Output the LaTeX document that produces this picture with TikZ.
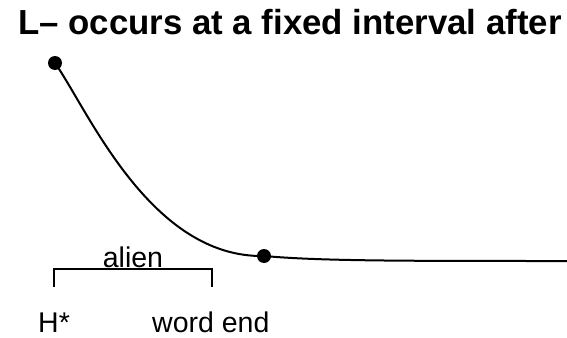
\documentclass[tikz,border=0pt]{standalone}
\usepackage{fontspec}
\setmainfont{Liberation Sans}
\usepackage{tikz}
\usetikzlibrary{positioning,calc}

\begin{document}
\begin{tikzpicture}[x=1pt,y=-1pt,
    dot/.style={circle,fill=black,inner sep=0pt,minimum size=14pt},
    lbl/.style={font=\fontsize{28.5}{30}\selectfont,inner sep=0pt,anchor=base}]
    \useasboundingbox (0,0) rectangle (567,337);
    \node[font=\bfseries\fontsize{34.8}{36}\selectfont,anchor=base west,inner sep=0pt] (title) at (18,35) {L– occurs at a fixed interval after};
    \node[dot] (hstar) at (55,63) {};
    \node[dot] (lminus) at (264,256) {};
    \coordinate (tail) at (567,261);
    \draw[line width=2pt] (hstar.center) .. controls (88,110) and (150,258) .. (lminus.center);
    \draw[line width=2pt] (lminus.center) .. controls (320,261) and (400,261) .. (tail);
    \coordinate (bl) at (54,287);
    \coordinate (br) at (212,287);
    \draw[line width=1.5pt] (bl) |- (133,269) -| (br);
    \node[lbl] (alien) at (133,267) {alien};
    \node[lbl,anchor=base west] (hlabel) at (38,332) {H*};
    \node[lbl,anchor=base west] (wend) at (152,332) {word end};
\end{tikzpicture}
\end{document}
